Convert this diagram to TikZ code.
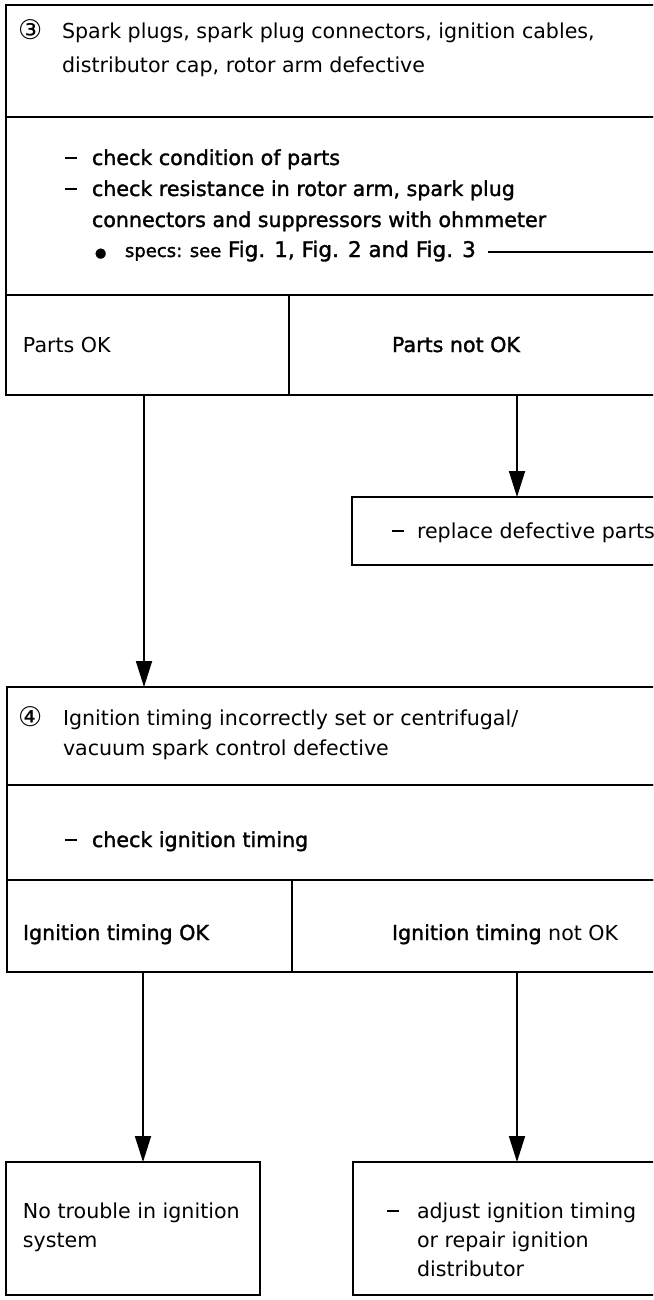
\documentclass[tikz,border=0pt]{standalone}
\usepackage{fontspec}
\setmainfont{DejaVu Sans}[BoldFont={DejaVu Sans}, BoldFeatures={FakeBold=1.5}]
\usetikzlibrary{arrows.meta}
\newcommand{\dsh}[1]{\makebox[#1][l]{\rule[6pt]{12pt}{2.2pt}}}
\begin{document}
\begin{tikzpicture}[x=1pt,y=-1pt,
  box/.style={draw, line width=2.6pt, anchor=north west, inner sep=0pt, outer sep=0pt},
  txt/.style={anchor=base west, inner sep=0pt, outer sep=0pt, font=\fontsize{20.6}{29}\selectfont},
  btxt/.style={txt, font=\fontsize{20.6}{29}\selectfont\bfseries},
  num/.style={anchor=base west, inner sep=0pt, outer sep=0pt, font=\fontsize{27}{27}\selectfont},
  arr/.style={line width=1.8pt, -{Triangle[length=26pt,width=16pt]}},
  specline/.style={line width=2pt}]
\path[use as bounding box] (0,0) rectangle (653,1300);
\fill[white] (0,0) rectangle (653,1300);
\begin{scope}
\clip (0,0) rectangle (653,1300);
% boxes
\node[box, minimum width=700pt, minimum height=112pt] (h3) at (6,5) {};
\node[box, minimum width=700pt, minimum height=178pt] (c3) at (6,117) {};
\node[box, minimum width=283pt, minimum height=100pt] (ok1) at (6,295) {};
\node[box, minimum width=411pt, minimum height=100pt] (nok1) at (289,295) {};
\node[box, minimum width=348pt, minimum height=68pt] (rep) at (352,497) {};
\node[box, minimum width=693pt, minimum height=98pt] (h4) at (7,687) {};
\node[box, minimum width=693pt, minimum height=95pt] (c4) at (7,785) {};
\node[box, minimum width=285pt, minimum height=92pt] (ok2) at (7,880) {};
\node[box, minimum width=408pt, minimum height=92pt] (nok2) at (292,880) {};
\node[box, minimum width=254pt, minimum height=133pt] (bl) at (6,1162) {};
\node[box, minimum width=347pt, minimum height=133pt] (br) at (353,1162) {};
% texts
\node[num] (n3) at (18,40) {③};
\node[txt] (t3a) at (62,39) {Spark plugs, spark plug connectors, ignition cables,};
\node[txt] (t3b) at (62,73) {distributor cap, rotor arm defective};
\node[btxt] (k1) at (65,165) {\dsh{27pt}check condition of parts};
\node[btxt] (k2) at (65,196) {\dsh{27pt}check resistance in rotor arm, spark plug};
\node[btxt] (k3) at (92,227) {connectors and suppressors with ohmmeter};
\node[btxt] (k4) at (95,257) {\makebox[30pt][l]{\fontsize{13}{13}\selectfont ●}{\fontsize{18}{17}\selectfont specs: see} {\fontsize{21.5}{29}\selectfont Fig. 1, Fig. 2 and Fig. 3}};
\coordinate (specsend) at (700,252);
\draw[specline] ([shift={(12pt,5pt)}]k4.base east) -- (specsend);
\node[txt] (po) at (23,352) {Parts OK};
\node[btxt] (pno) at (392,352) {Parts not OK};
\node[txt] (rt) at (392,538) {\dsh{25pt}replace defective parts};
\node[num] (n4) at (18,726) {④};
\node[txt] (t4a) at (63,725) {Ignition timing incorrectly set or centrifugal/};
\node[txt] (t4b) at (63,755) {vacuum spark control defective};
\node[btxt] (k5) at (65,847) {\dsh{27pt}check ignition timing};
\node[btxt] (io) at (23,940) {Ignition timing OK};
\node[txt] (ino) at (392,940) {{\bfseries Ignition timing} not OK};
\node[txt] (nt1) at (23,1218) {No trouble in ignition};
\node[txt] (nt2) at (23,1247) {system};
\node[txt] (ad1) at (387,1218) {\dsh{30pt}adjust ignition timing};
\node[txt] (ad2) at (417,1247) {or repair ignition};
\node[txt] (ad3) at (417,1276) {distributor};
% connectors
\draw[arr] ([xshift=138pt]ok1.south west) -- ([xshift=138pt]ok1.south west |- h4.north);
\draw[arr] ([xshift=228pt]nok1.south west) -- ([xshift=228pt]nok1.south west |- rep.north);
\draw[arr] ([xshift=136pt]ok2.south west) -- ([xshift=136pt]ok2.south west |- bl.north);
\draw[arr] ([xshift=225pt]nok2.south west) -- ([xshift=225pt]nok2.south west |- br.north);
\end{scope}
\end{tikzpicture}
\end{document}
